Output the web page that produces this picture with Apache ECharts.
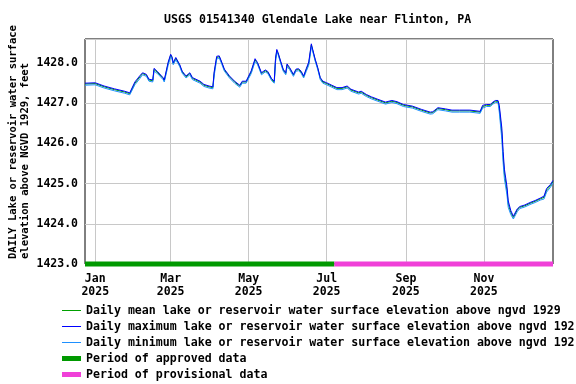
<!DOCTYPE html>
<html>
<head>
<meta charset="utf-8">
<script src="https://cdn.jsdelivr.net/npm/echarts@6/dist/echarts.min.js"></script>
<style>
  html, body { margin: 0; padding: 0; background: #fff; }
  #chart { width: 576px; height: 384px; }
</style>
</head>
<body>
<div id="chart"></div>
<script>
// daily elevations, ft above NGVD 1929
var dates = [
  "2024-12-24", "2025-01-01", "2025-01-08", "2025-01-16", "2025-01-24", "2025-01-28", "2025-02-01", "2025-02-05", "2025-02-07", "2025-02-10",
  "2025-02-12", "2025-02-15", "2025-02-16", "2025-02-19", "2025-02-23", "2025-02-24", "2025-02-27", "2025-03-01", "2025-03-02", "2025-03-03",
  "2025-03-05", "2025-03-08", "2025-03-10", "2025-03-13", "2025-03-16", "2025-03-18", "2025-03-24", "2025-03-27", "2025-03-31", "2025-04-03",
  "2025-04-04", "2025-04-06", "2025-04-08", "2025-04-10", "2025-04-12", "2025-04-16", "2025-04-20", "2025-04-24", "2025-04-26", "2025-04-29",
  "2025-05-03", "2025-05-06", "2025-05-08", "2025-05-11", "2025-05-12", "2025-05-14", "2025-05-16", "2025-05-19", "2025-05-21", "2025-05-22",
  "2025-05-23", "2025-05-24", "2025-05-26", "2025-05-28", "2025-05-30", "2025-05-31", "2025-06-02", "2025-06-05", "2025-06-07", "2025-06-09",
  "2025-06-11", "2025-06-13", "2025-06-15", "2025-06-17", "2025-06-19", "2025-06-20", "2025-06-22", "2025-06-24", "2025-06-26", "2025-06-28",
  "2025-07-01", "2025-07-05", "2025-07-09", "2025-07-13", "2025-07-17", "2025-07-20", "2025-07-26", "2025-07-28", "2025-08-01", "2025-08-05",
  "2025-08-10", "2025-08-16", "2025-08-21", "2025-08-25", "2025-08-30", "2025-09-06", "2025-09-13", "2025-09-20", "2025-09-22", "2025-09-26",
  "2025-10-02", "2025-10-07", "2025-10-13", "2025-10-21", "2025-10-29", "2025-10-31", "2025-11-03", "2025-11-06", "2025-11-08", "2025-11-10",
  "2025-11-12", "2025-11-13", "2025-11-15", "2025-11-16", "2025-11-17", "2025-11-19", "2025-11-20", "2025-11-22", "2025-11-24", "2025-11-25",
  "2025-11-27", "2025-11-29", "2025-12-03", "2025-12-07", "2025-12-11", "2025-12-15", "2025-12-18", "2025-12-20", "2025-12-23", "2025-12-25"
];
var meanElev = [
  1427.48, 1427.49, 1427.41, 1427.34, 1427.28, 1427.24, 1427.50, 1427.66, 1427.74, 1427.70,
  1427.58, 1427.56, 1427.84, 1427.76, 1427.62, 1427.56, 1427.99, 1428.20, 1428.14, 1427.99,
  1428.12, 1427.95, 1427.78, 1427.66, 1427.74, 1427.62, 1427.53, 1427.45, 1427.41, 1427.39,
  1427.74, 1428.14, 1428.16, 1428.00, 1427.83, 1427.66, 1427.53, 1427.43, 1427.53, 1427.53,
  1427.78, 1428.08, 1427.99, 1427.74, 1427.70, 1427.81, 1427.77, 1427.59, 1427.53, 1428.08,
  1428.31, 1428.24, 1428.03, 1427.83, 1427.74, 1427.95, 1427.87, 1427.70, 1427.83, 1427.84,
  1427.78, 1427.66, 1427.83, 1427.99, 1428.45, 1428.33, 1428.08, 1427.87, 1427.62, 1427.53,
  1427.49, 1427.43, 1427.37, 1427.37, 1427.41, 1427.33, 1427.26, 1427.28, 1427.20, 1427.14,
  1427.08, 1427.01, 1427.05, 1427.02, 1426.95, 1426.91, 1426.83, 1426.76, 1426.77, 1426.87,
  1426.84, 1426.81, 1426.81, 1426.81, 1426.78, 1426.92, 1426.95, 1426.95, 1427.01, 1427.05,
  1427.05, 1426.87, 1426.24, 1425.66, 1425.24, 1424.83, 1424.49, 1424.28, 1424.16, 1424.18,
  1424.34, 1424.41, 1424.45, 1424.51, 1424.56, 1424.62, 1424.66, 1424.84, 1424.95, 1425.05
];
var maxElev = [
  1427.50, 1427.51, 1427.43, 1427.36, 1427.30, 1427.26, 1427.53, 1427.69, 1427.76, 1427.72,
  1427.60, 1427.58, 1427.87, 1427.78, 1427.64, 1427.58, 1428.02, 1428.22, 1428.16, 1428.01,
  1428.14, 1427.97, 1427.80, 1427.68, 1427.76, 1427.64, 1427.55, 1427.47, 1427.43, 1427.41,
  1427.78, 1428.17, 1428.18, 1428.02, 1427.85, 1427.68, 1427.55, 1427.45, 1427.55, 1427.55,
  1427.81, 1428.11, 1428.01, 1427.76, 1427.72, 1427.83, 1427.79, 1427.61, 1427.55, 1428.12,
  1428.34, 1428.26, 1428.05, 1427.85, 1427.76, 1427.98, 1427.89, 1427.72, 1427.85, 1427.86,
  1427.80, 1427.68, 1427.86, 1428.03, 1428.48, 1428.35, 1428.10, 1427.89, 1427.64, 1427.55,
  1427.51, 1427.45, 1427.39, 1427.39, 1427.43, 1427.35, 1427.28, 1427.30, 1427.22, 1427.16,
  1427.10, 1427.03, 1427.07, 1427.04, 1426.97, 1426.93, 1426.85, 1426.78, 1426.79, 1426.89,
  1426.86, 1426.83, 1426.83, 1426.83, 1426.80, 1426.95, 1426.97, 1426.97, 1427.03, 1427.07,
  1427.07, 1426.95, 1426.38, 1425.80, 1425.36, 1424.93, 1424.57, 1424.33, 1424.19, 1424.22,
  1424.37, 1424.43, 1424.47, 1424.53, 1424.58, 1424.64, 1424.69, 1424.88, 1424.98, 1425.08
];
var minElev = [
  1427.45, 1427.46, 1427.38, 1427.31, 1427.25, 1427.21, 1427.46, 1427.62, 1427.71, 1427.67,
  1427.55, 1427.53, 1427.80, 1427.73, 1427.59, 1427.53, 1427.94, 1428.16, 1428.11, 1427.96,
  1428.08, 1427.92, 1427.75, 1427.63, 1427.71, 1427.59, 1427.50, 1427.42, 1427.38, 1427.36,
  1427.68, 1428.10, 1428.13, 1427.97, 1427.80, 1427.63, 1427.50, 1427.40, 1427.50, 1427.50,
  1427.74, 1428.04, 1427.96, 1427.71, 1427.67, 1427.78, 1427.74, 1427.56, 1427.50, 1428.02,
  1428.27, 1428.21, 1428.00, 1427.80, 1427.71, 1427.91, 1427.84, 1427.67, 1427.80, 1427.81,
  1427.75, 1427.63, 1427.79, 1427.95, 1428.40, 1428.30, 1428.05, 1427.84, 1427.59, 1427.50,
  1427.46, 1427.40, 1427.34, 1427.34, 1427.38, 1427.30, 1427.23, 1427.25, 1427.17, 1427.11,
  1427.05, 1426.98, 1427.02, 1426.99, 1426.92, 1426.88, 1426.80, 1426.73, 1426.74, 1426.84,
  1426.81, 1426.78, 1426.78, 1426.78, 1426.75, 1426.88, 1426.92, 1426.92, 1426.98, 1427.02,
  1427.02, 1426.78, 1426.10, 1425.52, 1425.12, 1424.72, 1424.41, 1424.23, 1424.12, 1424.15,
  1424.30, 1424.38, 1424.42, 1424.48, 1424.53, 1424.59, 1424.62, 1424.79, 1424.91, 1425.02
];
var approvedRange = ["2024-12-24", "2025-07-07"];
var provisionalRange = ["2025-07-07", "2025-12-25"];
var tickDates = ["2025-01-01", "2025-03-01", "2025-05-01", "2025-07-01", "2025-09-01", "2025-11-01"];
var monthNames = ["Jan", "Feb", "Mar", "Apr", "May", "Jun", "Jul", "Aug", "Sep", "Oct", "Nov", "Dec"];

var names = [
  "Daily mean lake or reservoir water surface elevation above ngvd 1929",
  "Daily maximum lake or reservoir water surface elevation above ngvd 192",
  "Daily minimum lake or reservoir water surface elevation above ngvd 192",
  "Period of approved data",
  "Period of provisional data"
];
var colors = ["#00a000", "#0000ff", "#1e90ff", "#009900", "#f040d8"];

var font = "DejaVu Sans Mono";
var fontSize = 11.5;
var gridColor = "#c8c8c8";

// dates -> ms, so a plain value axis can take custom tick spots
function ms(d) {
  return +echarts.time.parse(d);
}
function pairs(vals) {
  return dates.map(function (d, i) { return [ms(d), vals[i]]; });
}
function legendItem(i) {
  return { name: names[i], itemStyle: { color: colors[i], borderWidth: 0, opacity: 1 } };
}
var tickMs = tickDates.map(ms);

var legendText = { fontFamily: font, fontSize: 11.6, fontWeight: "bold", color: "#000", lineHeight: 15 };

var chart = echarts.init(document.getElementById("chart"), null, { renderer: "canvas" });

var option = {
  backgroundColor: "#fff",
  animation: false,
  title: {
    text: "USGS 01541340 Glendale Lake near Flinton, PA",
    left: 159,
    top: 9,
    textStyle: { fontFamily: font, fontSize: 11.6, fontWeight: "bold", color: "#000" }
  },
  grid: {
    left: 85,
    right: 23,
    top: 39,
    bottom: 120,
    show: true,
    borderColor: "#000",
    borderWidth: 1,
    backgroundColor: "transparent"
  },
  legend: [
    {
      orient: "vertical",
      left: 62,
      top: 303,
      padding: 0,
      icon: "rect",
      itemWidth: 19,
      itemHeight: 1,
      itemGap: 1,
      selectedMode: false,
      data: [0, 1, 2].map(legendItem),
      textStyle: legendText
    },
    {
      orient: "vertical",
      left: 62,
      top: 351,
      padding: 0,
      height: 40,
      icon: "rect",
      itemWidth: 19,
      itemHeight: 5,
      itemGap: 1,
      selectedMode: false,
      data: [3, 4].map(legendItem),
      textStyle: legendText
    }
  ],
  xAxis: {
    type: "value",
    min: ms(approvedRange[0]),
    max: ms(provisionalRange[1]),
    axisLine: { show: false },
    axisTick: { show: false, customValues: tickMs },
    splitLine: { show: true, lineStyle: { color: gridColor, width: 1 } },
    axisLabel: {
      customValues: tickMs,
      margin: 9,
      lineHeight: 13,
      fontFamily: font,
      fontSize: fontSize,
      fontWeight: "bold",
      color: "#000",
      formatter: function (val) {
        var d = new Date(val);
        return monthNames[d.getMonth()] + "\n" + d.getFullYear();
      }
    }
  },
  yAxis: {
    type: "value",
    min: 1423,
    max: 1428.6,
    interval: 1,
    axisLine: { show: false },
    axisTick: { show: false },
    splitLine: { show: true, lineStyle: { color: gridColor, width: 1 } },
    axisLabel: {
      margin: 7,
      showMaxLabel: false,
      fontFamily: font,
      fontSize: fontSize,
      fontWeight: "bold",
      color: "#000",
      formatter: function (v) { return v.toFixed(1); }
    }
  },
  graphic: [
    {
      type: "text",
      x: 7,
      y: 259,
      rotation: Math.PI / 2,
      style: {
        text: "DAILY Lake or reservoir water surface\nelevation above NGVD 1929, feet",
        font: "bold 10.5px " + font,
        fill: "#000",
        textAlign: "left",
        textVerticalAlign: "top",
        lineHeight: 12
      }
    }
  ],
  series: [
    {
      name: names[0],
      type: "line",
      color: colors[0],
      symbol: "none",
      lineStyle: { width: 1 },
      z: 2,
      data: pairs(meanElev)
    },
    {
      name: names[2],
      type: "line",
      color: colors[2],
      symbol: "none",
      lineStyle: { width: 1 },
      z: 3,
      data: pairs(minElev)
    },
    {
      name: names[1],
      type: "line",
      color: colors[1],
      symbol: "none",
      lineStyle: { width: 1 },
      z: 4,
      data: pairs(maxElev)
    },
    {
      name: names[3],
      type: "line",
      color: colors[3],
      symbol: "none",
      clip: false,
      lineStyle: { width: 5 },
      z: 5,
      data: approvedRange.map(function (d) { return [ms(d), 1423]; })
    },
    {
      name: names[4],
      type: "line",
      color: colors[4],
      symbol: "none",
      clip: false,
      lineStyle: { width: 5 },
      z: 5,
      data: provisionalRange.map(function (d) { return [ms(d), 1423]; })
    }
  ]
};

chart.setOption(option);
</script>
</body>
</html>
